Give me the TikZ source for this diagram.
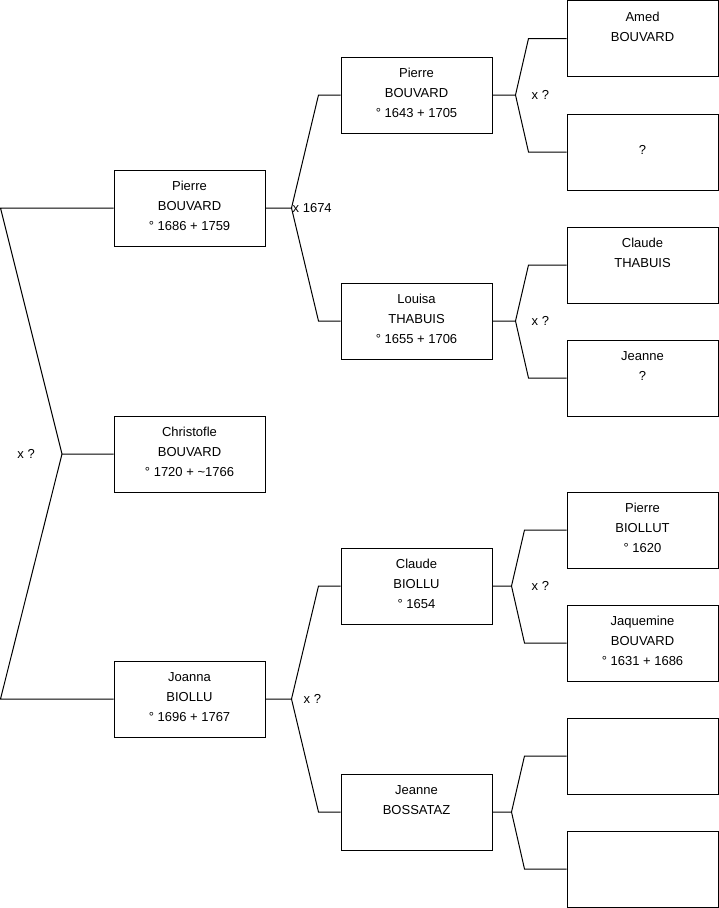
\documentclass[tikz,border=0pt]{standalone}
\usepackage{fontspec}
\setmainfont{Liberation Sans}
\usetikzlibrary{positioning, calc}

% top-aligned text block inside a person box
\newcommand{\who}[1]{\parbox[c][70pt][t]{145pt}{\centering\rule{0pt}{17.5pt}#1}}

\begin{document}
\begin{tikzpicture}[
    x=1pt, y=-1pt,
    every node/.style={font=\fontsize{13}{20}\selectfont},
    person/.style={draw, line width=1pt, minimum width=151pt, minimum height=76pt, inner sep=0pt},
    link/.style={line width=1pt},
    union/.style={inner sep=0pt},
  ]

  \useasboundingbox (0,0) rectangle (719,908);

  %%% ============================================================ %%%
  %%% Generation 1                                                 %%%
  %%% ============================================================ %%%
  \node[person] (pierre1) at (189.5,208) {\who{Pierre\\BOUVARD\\° 1686 + 1759}};
  \node[person] (christofle) at (189.5,454) {\who{Christofle\\BOUVARD\\° 1720 + \textasciitilde1766}};
  \node[person] (joanna) at (189.5,699) {\who{Joanna\\BIOLLU\\° 1696 + 1767}};

  %%% ============================================================ %%%
  %%% Generation 2                                                 %%%
  %%% ============================================================ %%%
  \node[person] (pierre2) at (416.5,95) {\who{Pierre\\BOUVARD\\° 1643 + 1705}};
  \node[person] (louisa) at (416.5,321) {\who{Louisa\\THABUIS\\° 1655 + 1706}};
  \node[person] (claude2) at (416.5,586) {\who{Claude\\BIOLLU\\° 1654}};
  \node[person] (jeanne2) at (416.5,812) {\who{Jeanne\\BOSSATAZ}};

  %%% ============================================================ %%%
  %%% Generation 3                                                 %%%
  %%% ============================================================ %%%
  \node[person] (amed) at (642.5,38.5) {\who{Amed\\BOUVARD}};
  \node[person] (unknown1) at (642.5,152) {\who{\\?}};
  \node[person] (claude3) at (642.5,265) {\who{Claude\\THABUIS}};
  \node[person] (jeanne3) at (642.5,378) {\who{Jeanne\\?}};
  \node[person] (pierre3) at (642.5,530) {\who{Pierre\\BIOLLUT\\° 1620}};
  \node[person] (jaquemine) at (642.5,643) {\who{Jaquemine\\BOUVARD\\° 1631 + 1686}};
  \node[person] (blank1) at (642.5,756) {};
  \node[person] (blank2) at (642.5,869) {};

  % Christofle's parents
  \coordinate (j0) at (62,454);
  \draw[link] (christofle.west) -- (j0) -- ([xshift=-113]pierre1.west) -- (pierre1.west);
  \draw[link] (j0) -- ([xshift=-113]joanna.west) -- (joanna.west);
  \node[union, anchor=east, left=27pt of j0] (u0) {x ?};

  % Pierre's parents
  \coordinate (j1) at ([xshift=26]pierre1.east);
  \draw[link] (pierre1.east) -- (j1) -- ([xshift=-22]pierre2.west) -- (pierre2.west);
  \draw[link] (j1) -- ([xshift=-22]louisa.west) -- (louisa.west);
  \node[union, anchor=west, right=1pt of j1] (u1) {x 1674};

  % Joanna's parents
  \coordinate (j2) at ([xshift=26]joanna.east);
  \draw[link] (joanna.east) -- (j2) -- ([xshift=-22]claude2.west) -- (claude2.west);
  \draw[link] (j2) -- ([xshift=-22]jeanne2.west) -- (jeanne2.west);
  \node[union, anchor=west, right=12pt of j2] (u2) {x ?};

  % Pierre (1643) parents
  \coordinate (j3) at ([xshift=23]pierre2.east);
  \draw[link] (pierre2.east) -- (j3) -- ([xshift=-38]amed.west) -- (amed.west);
  \draw[link] (j3) -- ([xshift=-38]unknown1.west) -- (unknown1.west);
  \node[union, anchor=west, right=16pt of j3] (u3) {x ?};

  % Louisa's parents
  \coordinate (j4) at ([xshift=23]louisa.east);
  \draw[link] (louisa.east) -- (j4) -- ([xshift=-38]claude3.west) -- (claude3.west);
  \draw[link] (j4) -- ([xshift=-38]jeanne3.west) -- (jeanne3.west);
  \node[union, anchor=west, right=16pt of j4] (u4) {x ?};

  % Claude's parents
  \coordinate (j5) at ([xshift=19]claude2.east);
  \draw[link] (claude2.east) -- (j5) -- ([xshift=-42]pierre3.west) -- (pierre3.west);
  \draw[link] (j5) -- ([xshift=-42]jaquemine.west) -- (jaquemine.west);
  \node[union, anchor=west, right=20pt of j5] (u5) {x ?};

  % Jeanne's parents
  \coordinate (j6) at ([xshift=19]jeanne2.east);
  \draw[link] (jeanne2.east) -- (j6) -- ([xshift=-42]blank1.west) -- (blank1.west);
  \draw[link] (j6) -- ([xshift=-42]blank2.west) -- (blank2.west);

\end{tikzpicture}
\end{document}
